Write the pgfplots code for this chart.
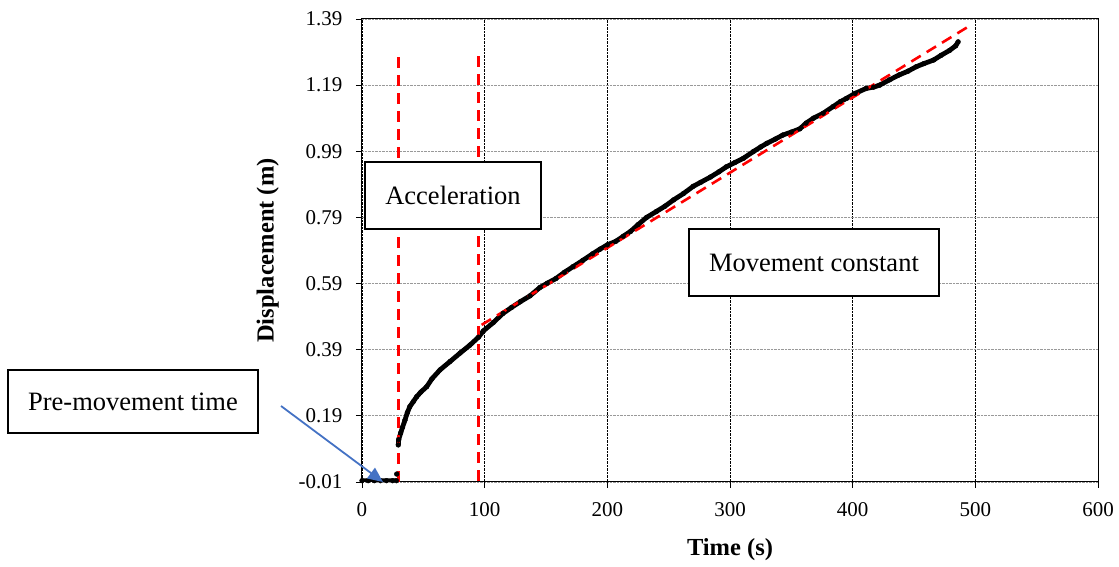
\documentclass[border=0pt]{standalone}
\usepackage{pgfplots}
\pgfplotsset{compat=1.18}
\usepackage{pgfplotstable}
\usepackage{fontspec}
\setmainfont{Liberation Serif}
\usetikzlibrary{arrows.meta}
\definecolor{arrowblue}{HTML}{4472C4}

\pgfplotstableread{
t d
0 -0.006
5 -0.006
10 -0.006
15 -0.006
20 -0.006
25 -0.006
28 -0.006
nan nan
28.3 0.014
nan nan
29.6 0.102
29.9 0.118
31.5 0.138
33 0.155
35 0.177
37 0.200
39 0.218
41.8 0.233
44.6 0.248
48 0.262
52.7 0.278
57 0.302
63.6 0.329
71.7 0.354
80 0.380
88 0.404
95 0.428
99 0.447
107 0.472
115 0.500
122 0.518
129 0.535
137 0.553
145 0.578
151 0.591
158 0.605
165 0.624
172 0.641
180 0.660
188 0.680
194 0.694
200 0.707
207 0.718
213 0.733
219 0.748
225 0.768
232 0.790
240 0.808
247 0.824
254 0.843
262 0.862
270 0.884
276 0.896
284 0.912
291 0.928
297 0.943
304 0.956
311 0.969
319 0.989
325 1.003
330 1.014
337 1.027
343 1.039
350 1.048
357 1.058
362 1.075
368 1.090
376 1.105
384 1.125
390 1.140
395 1.150
402 1.165
411 1.180
417 1.184
422 1.190
430 1.206
438 1.221
445 1.232
452 1.246
458 1.255
466 1.266
472 1.280
479 1.295
484 1.309
486 1.321
}\datatable

\begin{document}
\begin{tikzpicture}
\useasboundingbox (-362pt,-85pt) rectangle (757pt,482pt);
\begin{axis}[
  at={(0pt,0pt)}, anchor=south west,
  scale only axis, width=736pt, height=463pt,
  xmin=0, xmax=600, ymin=-0.01, ymax=1.39,
  xtick={0,100,200,300,400,500,600},
  xticklabels={0,100,200,300,400,500,600},
  ytick={-0.01,0.19,0.39,0.59,0.79,0.99,1.19,1.39},
  yticklabels={-0.01,0.19,0.39,0.59,0.79,0.99,1.19,1.39},
  tick align=outside, xtick pos=bottom, ytick pos=left,
  major tick length=6pt,
  tick style={black, line width=0.9pt},
  axis line style={black, line width=1pt},
  grid=major,
  x grid style={black, densely dotted, line width=0.9pt},
  y grid style={gray!80, densely dotted, line width=0.9pt},
  ticklabel style={font=\fontsize{21}{24}\selectfont},
  xticklabel style={yshift=-11pt},
  yticklabel style={xshift=-10pt},
  xlabel={Time (s)}, ylabel={Displacement (m)},
  label style={font=\bfseries\fontsize{24.5}{28}\selectfont},
  xlabel style={at={(axis description cs:0.5,-0.145)}, anchor=center},
  ylabel style={at={(axis description cs:-0.128,0.5)}, anchor=center},
  unbounded coords=jump,
]
\addplot[black, line width=4.8pt, line join=round, mark=*, mark size=2.4pt, mark options={solid, line width=0.4pt}] table[x=t, y=d] {\datatable};
\addplot[red, line width=2.6pt, dash pattern=on 11pt off 7pt] coordinates {(29.7,-0.01) (29.7,1.285)};
\addplot[red, line width=2.6pt, dash pattern=on 11pt off 7pt] coordinates {(95.1,-0.006) (95.1,1.30)};
\addplot[red, line width=2.6pt, dash pattern=on 11pt off 7pt] coordinates {(97.5,0.465) (494.3,1.367)};
\end{axis}
\node[draw=black, line width=1.2pt, fill=white, minimum width=176pt, minimum height=67pt, inner sep=0pt, font=\fontsize{26.5}{30}\selectfont] at (91pt,286.5pt) {Acceleration};
\node[draw=black, line width=1.2pt, fill=white, minimum width=250pt, minimum height=67pt, inner sep=0pt, font=\fontsize{26.5}{30}\selectfont] at (452pt,219.5pt) {Movement constant};
\node[draw=black, line width=1.2pt, fill=white, minimum width=250pt, minimum height=63pt, inner sep=0pt, font=\fontsize{26.5}{30}\selectfont] at (-229pt,80.5pt) {Pre-movement time};
\draw[arrowblue, line width=1.8pt, -{Triangle[length=15pt,width=13pt]}] (-81pt,76pt) -- (21pt,0pt);
\end{tikzpicture}
\end{document}
